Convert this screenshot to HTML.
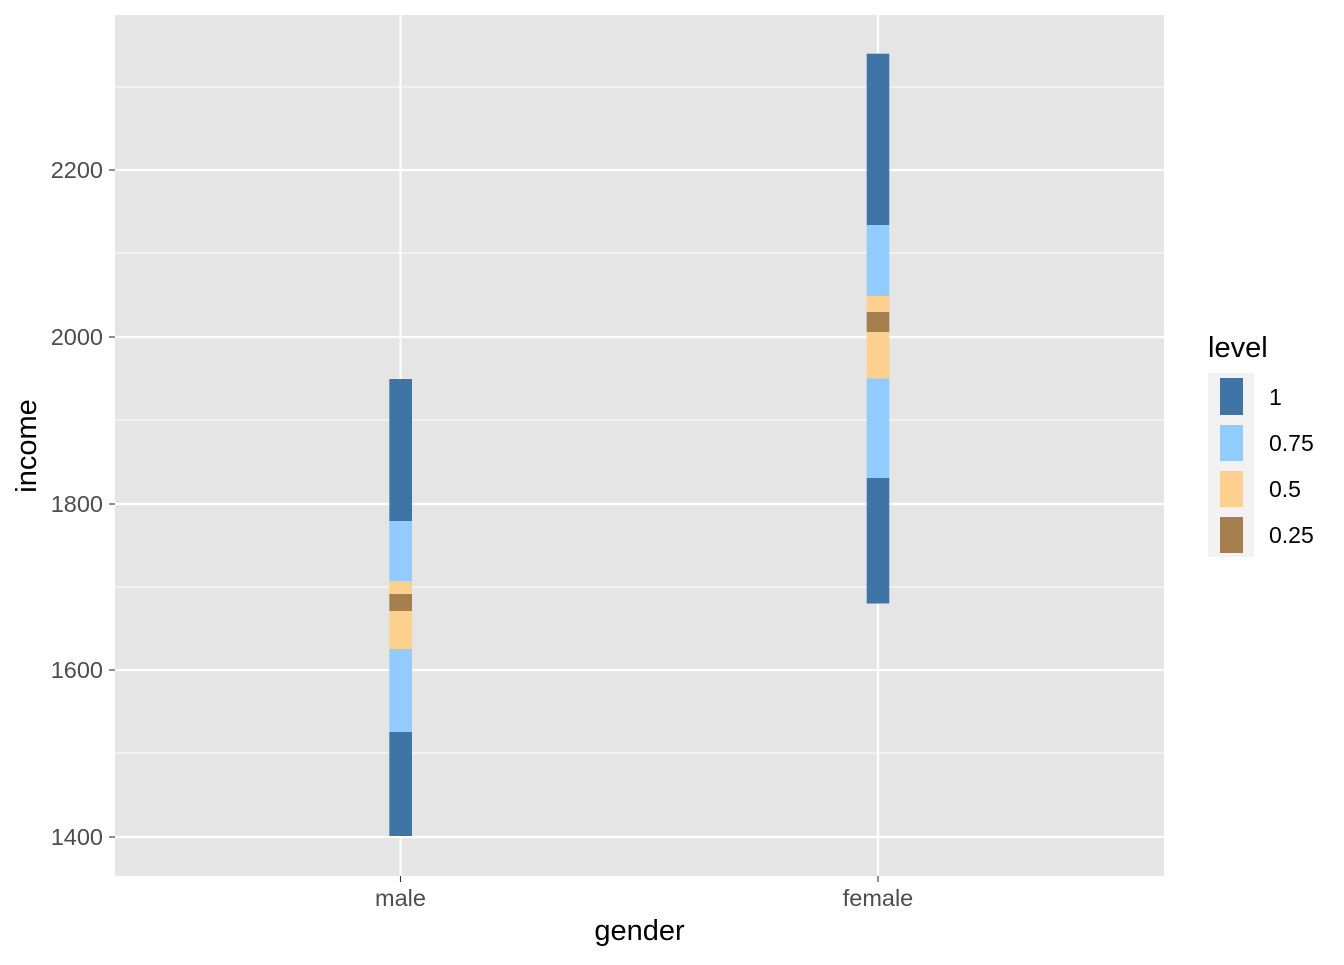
<!DOCTYPE html>
<html><head><meta charset="utf-8"><style>body{margin:0;background:#fff}</style></head><body>
<svg width="1344" height="960" xmlns="http://www.w3.org/2000/svg" font-family="Liberation Sans, sans-serif">
<rect width="1344" height="960" fill="#fff"/>
<rect x="115" y="15" width="1049" height="861" fill="#e5e5e5"/>
<g stroke="#fff" stroke-width="1.1">
<line x1="115" x2="1164" y1="753" y2="753"/><line x1="115" x2="1164" y1="587" y2="587"/>
<line x1="115" x2="1164" y1="420" y2="420"/><line x1="115" x2="1164" y1="253" y2="253"/>
<line x1="115" x2="1164" y1="87" y2="87"/>
</g>
<g stroke="#fff" stroke-width="2.2">
<line x1="115" x2="1164" y1="837" y2="837"/><line x1="115" x2="1164" y1="670" y2="670"/>
<line x1="115" x2="1164" y1="504" y2="504"/><line x1="115" x2="1164" y1="337" y2="337"/>
<line x1="115" x2="1164" y1="170" y2="170"/>
<line x1="400.5" x2="400.5" y1="15" y2="876"/><line x1="878" x2="878" y1="15" y2="876"/>
</g>
<g>
<rect x="389.3" y="379" width="22.7" height="142" fill="#3f74a6"/>
<rect x="389.3" y="521" width="22.7" height="60" fill="#92cbfd"/>
<rect x="389.3" y="581" width="22.7" height="13" fill="#fdd08e"/>
<rect x="389.3" y="594" width="22.7" height="17" fill="#a67f4e"/>
<rect x="389.3" y="611" width="22.7" height="38" fill="#fdd08e"/>
<rect x="389.3" y="649" width="22.7" height="83" fill="#92cbfd"/>
<rect x="389.3" y="732" width="22.7" height="104" fill="#3f74a6"/>
<rect x="866.7" y="53.7" width="22.6" height="171.3" fill="#3f74a6"/>
<rect x="866.7" y="225" width="22.6" height="71" fill="#92cbfd"/>
<rect x="866.7" y="296" width="22.6" height="16" fill="#fdd08e"/>
<rect x="866.7" y="312" width="22.6" height="20" fill="#a67f4e"/>
<rect x="866.7" y="332" width="22.6" height="46.5" fill="#fdd08e"/>
<rect x="866.7" y="378.5" width="22.6" height="99.5" fill="#92cbfd"/>
<rect x="866.7" y="478" width="22.6" height="125.5" fill="#3f74a6"/>
</g>
<g stroke="#333" stroke-width="1.1">
<line x1="109" x2="115" y1="837" y2="837"/><line x1="109" x2="115" y1="670" y2="670"/>
<line x1="109" x2="115" y1="504" y2="504"/><line x1="109" x2="115" y1="337" y2="337"/>
<line x1="109" x2="115" y1="170" y2="170"/>
<line x1="400.5" x2="400.5" y1="876" y2="882"/><line x1="878" x2="878" y1="876" y2="882"/>
</g>
<g font-size="23.5" fill="#4d4d4d" text-anchor="end">
<text x="103" y="845">1400</text><text x="103" y="678">1600</text><text x="103" y="512">1800</text>
<text x="103" y="345">2000</text><text x="103" y="178">2200</text>
</g>
<g font-size="23.5" fill="#4d4d4d" text-anchor="middle">
<text x="400.5" y="906">male</text><text x="878" y="906">female</text>
</g>
<text x="639.5" y="940" font-size="29" text-anchor="middle">gender</text>
<text transform="translate(36,446) rotate(-90)" font-size="29" text-anchor="middle">income</text>
<text x="1208" y="357" font-size="29">level</text>
<rect x="1208" y="373" width="46" height="184" fill="#f2f2f2"/>
<rect x="1220" y="378" width="23" height="37" fill="#3f74a6"/>
<rect x="1220" y="425" width="23" height="36" fill="#92cbfd"/>
<rect x="1220" y="471" width="23" height="36" fill="#fdd08e"/>
<rect x="1220" y="517" width="23" height="36" fill="#a67f4e"/>
<g font-size="23">
<text x="1269" y="405">1</text><text x="1269" y="451">0.75</text>
<text x="1269" y="497">0.5</text><text x="1269" y="543">0.25</text>
</g>
</svg>
</body></html>
